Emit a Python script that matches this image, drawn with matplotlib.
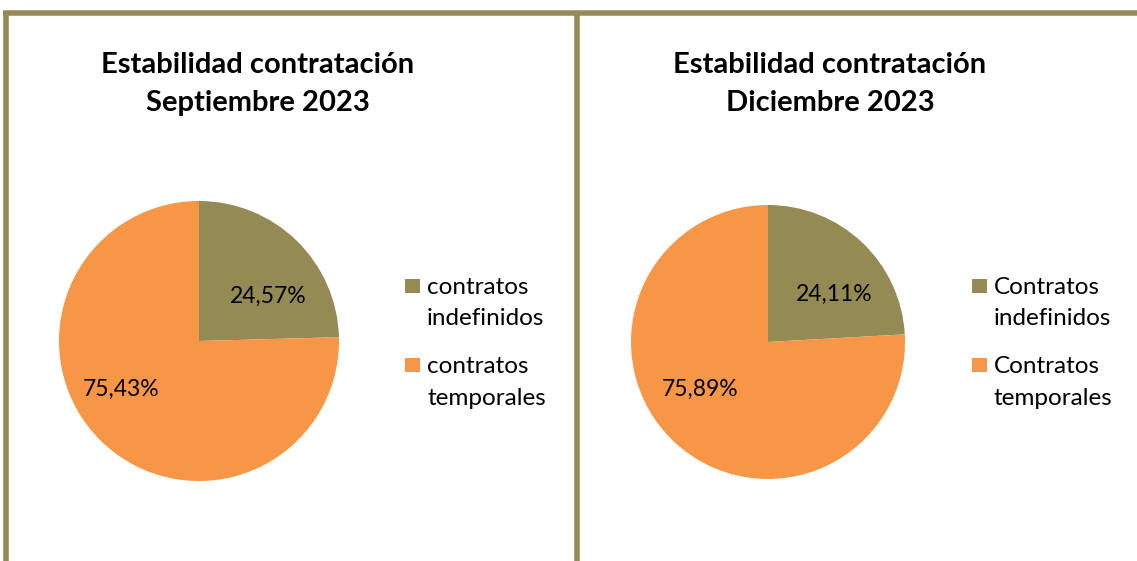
import matplotlib.pyplot as plt
from matplotlib.patches import Rectangle
from matplotlib.lines import Line2D

W, H, DPI = 1137, 561, 100

title_line1 = ["Estabilidad contratación", "Estabilidad contratación"]
title_line2 = ["Septiembre 2023", "Diciembre 2023"]
categories_sep = [["contratos", "indefinidos"], ["contratos", "temporales"]]
categories_dic = [["Contratos", "indefinidos"], ["Contratos", "temporales"]]
values_sep = [24.57, 75.43]
values_dic = [24.11, 75.89]
colors = ["#948A54", "#F79646"]
border = "#948A54"
font = ["Lato", "DejaVu Sans"]

fig = plt.figure(figsize=(W / DPI, H / DPI), dpi=DPI)
fig.patch.set_facecolor("white")


def px(x, y):
    return x / W, 1 - y / H


def add_pie(cx, cy, r, values):
    x0, y0 = px(cx - r, cy + r)
    ax = fig.add_axes([x0, y0, 2 * r / W, 2 * r / H])
    ax.pie(values, colors=colors, startangle=90, counterclock=False,
           radius=1.0, wedgeprops=dict(linewidth=0))
    ax.set_xlim(-1, 1)
    ax.set_ylim(-1, 1)
    ax.set_aspect("equal")
    ax.axis("off")
    return ax


def fmt(v):
    return f"{v:.2f}".replace(".", ",") + "%"


panels = [
    dict(cx=199, cy=341, r=140, vals=values_sep, cats=categories_sep, tx=258,
         lab=[(268, 296), (121, 389)], lx=405),
    dict(cx=768, cy=342, r=137, vals=values_dic, cats=categories_dic, tx=830,
         lab=[(834, 294), (700, 389)], lx=972),
]
legend_baselines = [[294, 325], [373, 405]]

for i, p in enumerate(panels):
    add_pie(p["cx"], p["cy"], p["r"], p["vals"])
    for text, base in ((title_line1[i], 73), (title_line2[i], 111)):
        tx, ty = px(p["tx"], base)
        fig.text(tx, ty, text, ha="center", va="baseline", fontsize=21,
                 fontweight="bold", family=font)
    for (lxp, lyp), v in zip(p["lab"], p["vals"]):
        x, y = px(lxp, lyp)
        fig.text(x, y, fmt(v), ha="center", va="center", fontsize=16.5, family=font,
                 color="black")
    for cat, col, bases in zip(p["cats"], colors, legend_baselines):
        sx, sy = px(p["lx"], bases[0] - 1)
        fig.add_artist(Rectangle((sx, sy), 15 / W, 14 / H, transform=fig.transFigure,
                                 facecolor=col, edgecolor="none"))
        for word, b in zip(cat, bases):
            x, y = px(p["lx"] + 22, b)
            fig.text(x, y, word, ha="left", va="baseline", fontsize=17.5, family=font,
                     color="black")

# Panel frames
lw = 5.5 * 72 / DPI
fig.add_artist(Line2D([5.5 / W, 5.5 / W], [1 - 12.5 / H, 0], transform=fig.transFigure,
                      color=border, lw=lw, solid_capstyle="butt"))
fig.add_artist(Line2D([577 / W, 577 / W], [1 - 12.5 / H, 0], transform=fig.transFigure,
                      color=border, lw=lw, solid_capstyle="butt"))
fig.add_artist(Line2D([3 / W, 1], [1 - 12.5 / H, 1 - 12.5 / H], transform=fig.transFigure,
                      color=border, lw=lw, solid_capstyle="butt"))

fig.savefig("out.png", dpi=DPI, facecolor="white")
